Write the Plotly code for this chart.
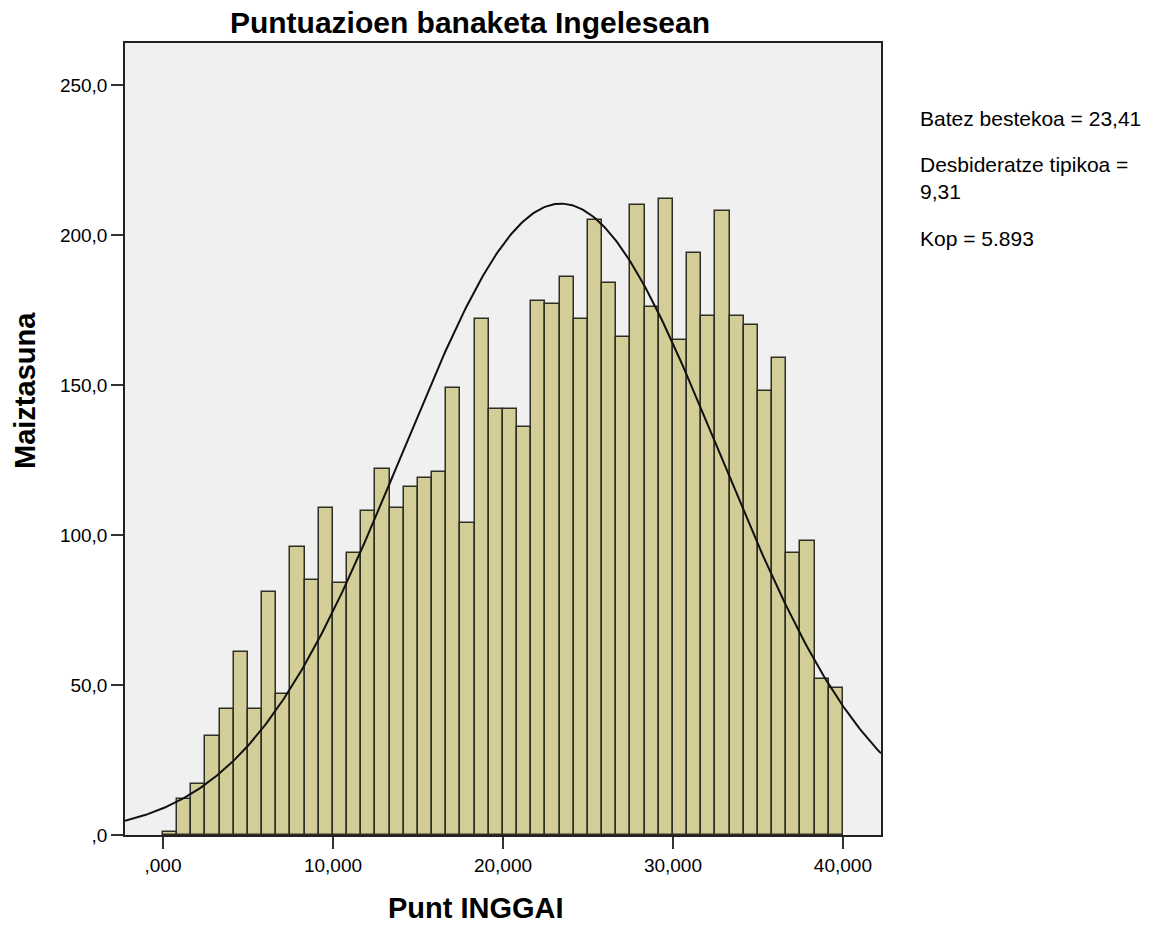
import numpy as np
import plotly.graph_objects as go

# ---- data ----
bin_start = 0.0
bin_end = 40.0
counts = [1, 12, 17, 33, 42, 61, 42, 81, 47, 96, 85, 109, 84, 94, 108, 122,
          109, 116, 119, 121, 149, 104, 172, 142, 142, 136, 178, 177, 186, 172,
          205, 184, 166, 210, 176, 212, 165, 194, 173, 208, 173, 170, 148, 159,
          94, 98, 52, 49]
mean_val = 23.41
sd_val = 9.31
n_val = 5893

y_tickvals = [0, 50, 100, 150, 200, 250]
y_ticktext = [",0", "50,0", "100,0", "150,0", "200,0", "250,0"]
x_tickvals = [0, 10, 20, 30, 40]
x_ticktext = [",000", "10,000", "20,000", "30,000", "40,000"]

title_text = "Puntuazioen banaketa Ingelesean"
x_title = "Punt INGGAI"
y_title = "Maiztasuna"
stats_lines = ["Batez bestekoa = 23,41", "Desbideratze tipikoa =<br>9,31", "Kop = 5.893"]

# ---- derived ----
nbins = len(counts)
bw = (bin_end - bin_start) / nbins
centers = [bin_start + bw * (i + 0.5) for i in range(nbins)]

x_range = [-2.235, 42.24]
xc = np.linspace(x_range[0], x_range[1], 400)
yc = n_val * bw / (sd_val * np.sqrt(2 * np.pi)) * np.exp(-0.5 * ((xc - mean_val) / sd_val) ** 2)

fig = go.Figure()
fig.add_trace(go.Bar(
    x=centers, y=counts, width=bw,
    marker=dict(color="#D3CE97", line=dict(color="#2e2e24", width=1.5)),
    hoverinfo="x+y", showlegend=False,
))
fig.add_trace(go.Scatter(
    x=xc, y=yc, mode="lines",
    line=dict(color="#111111", width=2), showlegend=False, hoverinfo="skip",
))

font_family = "Liberation Sans, Arial, sans-serif"

fig.update_layout(
    width=1172, height=942,
    margin=dict(l=125, r=291, t=43, b=107),
    paper_bgcolor="white",
    plot_bgcolor="#F0F0F0",
    bargap=0,
    font=dict(family=font_family, color="#000000"),
    title=dict(text="<b>" + title_text + "</b>", x=470 / 1172, xanchor="center",
               y=1 - 22 / 942, yanchor="middle", font=dict(size=30, family=font_family)),
    xaxis=dict(range=x_range, tickvals=x_tickvals, ticktext=x_ticktext,
               showgrid=False, zeroline=False, ticks="outside", ticklen=12,
               tickwidth=1.5, tickcolor="#333", showline=True, linecolor="#222",
               linewidth=1.5, mirror=True, tickfont=dict(size=19)),
    yaxis=dict(range=[0, 264], tickvals=y_tickvals, ticktext=y_ticktext,
               showgrid=False, zeroline=False, ticks="outside", ticklen=12,
               tickwidth=1.5, tickcolor="#333", showline=True, linecolor="#222",
               linewidth=1.5, mirror=True, tickfont=dict(size=19)),
)

annotations = [
    dict(text="<b>" + x_title + "</b>", xref="paper", yref="paper",
         x=(476 - 125) / 756, y=(835 - 908) / 792, showarrow=False,
         xanchor="center", yanchor="middle", font=dict(size=29)),
    dict(text="<b>" + y_title + "</b>", xref="paper", yref="paper",
         x=(25 - 125) / 756, y=(835 - 391) / 792, showarrow=False, textangle=-90,
         xanchor="center", yanchor="middle", font=dict(size=29)),
]
stat_y = [118, 178, 238]
for txt, yy in zip(stats_lines, stat_y):
    annotations.append(dict(text=txt, xref="paper", yref="paper",
                            x=(918 - 125) / 756, y=(835 - yy) / 792, showarrow=False,
                            xanchor="left", yanchor="middle", align="left",
                            font=dict(size=21)))
fig.update_layout(annotations=annotations)

fig.write_html("out.html", post_script="document.body.style.margin='0';",
               config={"displayModeBar": False})
